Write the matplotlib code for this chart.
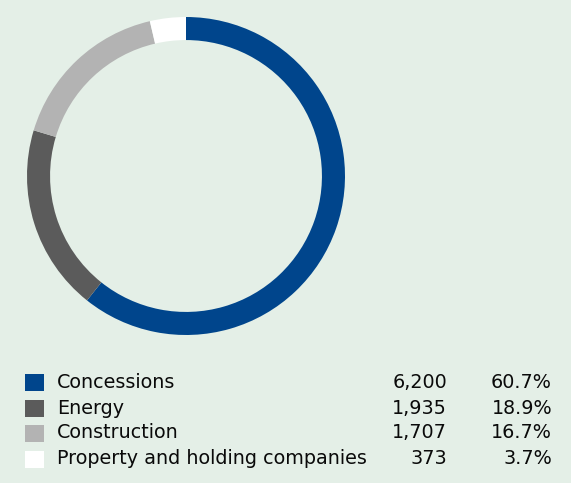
import matplotlib
matplotlib.use("Agg")
from matplotlib import pyplot as plt
from matplotlib.patches import Rectangle

# Data
segments = ["Concessions", "Energy", "Construction", "Property and holding companies"]
values = [6200, 1935, 1707, 373]
value_labels = ["6,200", "1,935", "1,707", "373"]
percent_labels = ["60.7%", "18.9%", "16.7%", "3.7%"]
colors = ["#00458c", "#5b5b5b", "#b3b3b3", "#ffffff"]

bg = "#e4efe7"
W, H = 571, 483

fig = plt.figure(figsize=(W / 100, H / 100), dpi=100)
fig.patch.set_facecolor(bg)

# Donut
ax = fig.add_axes([27 / W, (H - 335) / H, 318 / W, 318 / H])
ax.set_facecolor(bg)
ax.pie(values, colors=colors, startangle=90, counterclock=False, radius=1,
       wedgeprops=dict(width=0.145, linewidth=0))
ax.set_xlim(-1, 1)
ax.set_ylim(-1, 1)
ax.set_aspect("equal")
ax.axis("off")

# Legend table
row_y = [382, 408, 433, 459]
for i, name in enumerate(segments):
    y = 1 - row_y[i] / H
    fig.patches.append(Rectangle((25 / W, y - 9 / H), 19 / W, 17 / H,
                                 transform=fig.transFigure, facecolor=colors[i],
                                 edgecolor="none"))
    fig.text(57 / W, y, name, fontsize=13.8, va="center", ha="left", color="#0a0a0a")
    fig.text(447 / W, y, value_labels[i], fontsize=13.8, va="center", ha="right", color="#0a0a0a")
    fig.text(552 / W, y, percent_labels[i], fontsize=13.8, va="center", ha="right", color="#0a0a0a")

fig.savefig("out.png", dpi=100, facecolor=bg)
